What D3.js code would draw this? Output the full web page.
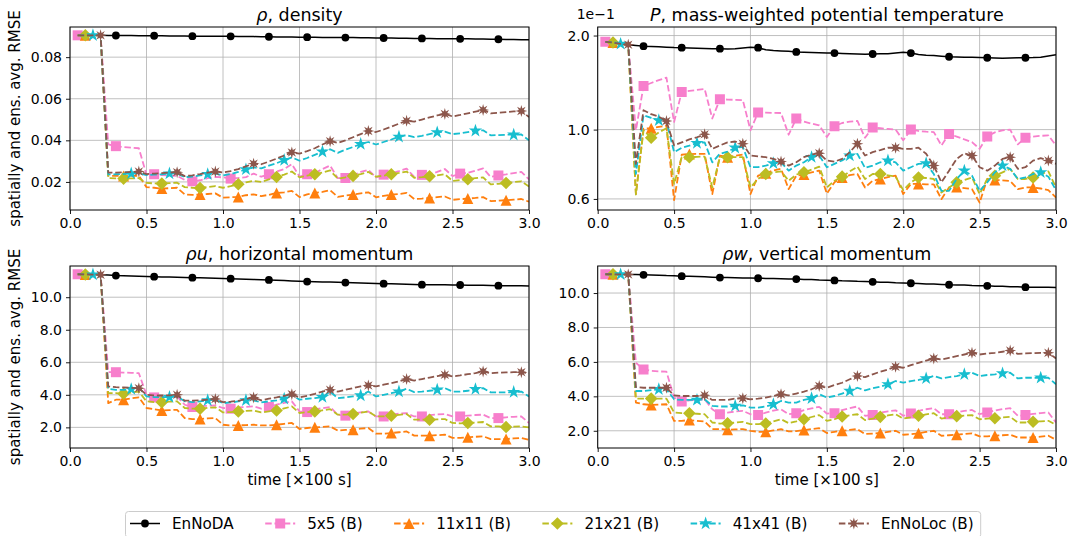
<!DOCTYPE html>
<html>
<head>
<meta charset="utf-8">
<script src="https://cdn.jsdelivr.net/npm/d3@7"></script>
<style>
  body { margin: 0; background: #fff; }
  svg text { font-family: "DejaVu Sans", sans-serif; fill: #000; }
</style>
</head>
<body>
<svg id="fig" width="1071" height="536"></svg>
<script>
// ---- sample times [x100 s] ----
const times = [0.05,0.10,0.15,0.20,0.25,0.30,0.35,0.40,0.45,0.50,
               0.55,0.60,0.65,0.70,0.75,0.80,0.85,0.90,0.95,1.00,
               1.05,1.10,1.15,1.20,1.25,1.30,1.35,1.40,1.45,1.50,
               1.55,1.60,1.65,1.70,1.75,1.80,1.85,1.90,1.95,2.00,
               2.05,2.10,2.15,2.20,2.25,2.30,2.35,2.40,2.45,2.50,
               2.55,2.60,2.65,2.70,2.75,2.80,2.85,2.90,2.95,3.00];

const seriesNames = ["EnNoDA", "5x5 (B)", "11x11 (B)", "21x21 (B)", "41x41 (B)", "EnNoLoc (B)"];

// ---- tick labels ----
const timeTicks = [0.0, 0.5, 1.0, 1.5, 2.0, 2.5, 3.0];
const densityTicks = [0.02, 0.04, 0.06, 0.08];
const potTempTicks = [0.6, 1.0, 2.0];
const potTempLimits = [0.553, 2.13];
const momentumTicks = [2.0, 4.0, 6.0, 8.0, 10.0];

// ---- rho, density ----
const rhoEnNoDA = [0.0905,0.0905,0.0905,0.0905,0.0904,0.0904,0.0904,0.0904,0.0903,0.0903,
  0.0903,0.0903,0.0902,0.0902,0.0902,0.0901,0.0901,0.0901,0.0900,0.0900,
  0.0900,0.0899,0.0899,0.0899,0.0898,0.0898,0.0897,0.0897,0.0897,0.0896,
  0.0896,0.0896,0.0895,0.0895,0.0894,0.0894,0.0894,0.0893,0.0893,0.0892,
  0.0892,0.0892,0.0891,0.0891,0.0890,0.0890,0.0890,0.0889,0.0889,0.0888,
  0.0888,0.0888,0.0887,0.0887,0.0886,0.0886,0.0885,0.0885,0.0884,0.0884];
const rho5x5 = [0.0905,0.0905,0.0905,0.0905,
  0.0380,0.0372,0.0368,0.0365,0.0362,
  0.0235,0.0237,0.0233,0.0231,0.0229,
  0.0210,0.0203,0.0208,0.0218,0.0224,
  0.0222,0.0216,0.0219,0.0223,0.0240,
  0.0225,0.0237,0.0250,0.0262,0.0285,
  0.0226,0.0237,0.0242,0.0262,0.0279,
  0.0218,0.0219,0.0232,0.0248,0.0258,
  0.0222,0.0235,0.0242,0.0252,0.0264,
  0.0224,0.0234,0.0236,0.0248,0.0262,
  0.0228,0.0240,0.0244,0.0254,0.0265,
  0.0224,0.0231,0.0236,0.0242,0.0248,
  0.0212];
const rho11x11 = [0.0905,0.0905,0.0905,0.0905,
  0.0230,0.0229,0.0228,0.0229,0.0230,
  0.0175,0.0172,0.0168,0.0170,0.0172,
  0.0140,0.0138,0.0139,0.0142,0.0145,
  0.0124,0.0126,0.0128,0.0136,0.0140,
  0.0132,0.0138,0.0147,0.0150,0.0157,
  0.0127,0.0140,0.0147,0.0152,0.0160,
  0.0128,0.0134,0.0139,0.0145,0.0150,
  0.0126,0.0133,0.0139,0.0142,0.0147,
  0.0118,0.0120,0.0123,0.0127,0.0130,
  0.0114,0.0117,0.0120,0.0123,0.0127,
  0.0108,0.0110,0.0112,0.0115,0.0118,
  0.0105];
const rho21x21 = [0.0905,0.0905,0.0905,0.0905,
  0.0218,0.0217,0.0216,0.0217,0.0218,
  0.0195,0.0193,0.0192,0.0194,0.0196,
  0.0175,0.0172,0.0171,0.0175,0.0180,
  0.0172,0.0180,0.0189,0.0198,0.0205,
  0.0200,0.0212,0.0224,0.0235,0.0250,
  0.0222,0.0230,0.0237,0.0245,0.0255,
  0.0216,0.0222,0.0229,0.0238,0.0248,
  0.0225,0.0230,0.0237,0.0243,0.0250,
  0.0220,0.0223,0.0227,0.0232,0.0237,
  0.0205,0.0209,0.0213,0.0218,0.0222,
  0.0188,0.0191,0.0195,0.0199,0.0203,
  0.0178];
const rho41x41 = [0.0905,0.0905,0.0905,0.0905,
  0.0236,0.0237,0.0238,0.0240,0.0242,
  0.0233,0.0235,0.0237,0.0240,0.0241,
  0.0223,0.0226,0.0231,0.0237,0.0240,
  0.0231,0.0238,0.0248,0.0260,0.0270,
  0.0265,0.0278,0.0290,0.0305,0.0318,
  0.0302,0.0315,0.0330,0.0345,0.0357,
  0.0340,0.0355,0.0368,0.0382,0.0392,
  0.0380,0.0392,0.0404,0.0417,0.0425,
  0.0415,0.0422,0.0430,0.0438,0.0442,
  0.0430,0.0434,0.0440,0.0446,0.0448,
  0.0424,0.0425,0.0427,0.0427,0.0428,
  0.0400];
const rhoEnNoLoc = [0.0905,0.0905,0.0905,0.0905,
  0.0245,0.0245,0.0246,0.0248,0.0250,
  0.0238,0.0240,0.0242,0.0245,0.0247,
  0.0228,0.0232,0.0238,0.0245,0.0250,
  0.0245,0.0252,0.0262,0.0275,0.0288,
  0.0285,0.0298,0.0312,0.0327,0.0342,
  0.0336,0.0348,0.0362,0.0380,0.0396,
  0.0388,0.0400,0.0415,0.0430,0.0445,
  0.0440,0.0452,0.0466,0.0480,0.0494,
  0.0490,0.0500,0.0510,0.0520,0.0527,
  0.0515,0.0522,0.0530,0.0538,0.0546,
  0.0530,0.0533,0.0536,0.0539,0.0541,
  0.0512];

// ---- P, mass-weighted potential temperature (x 1e-1) ----
const potEnNoDA = [1.91,1.90,1.88,1.87,1.86,1.85,1.845,1.84,1.835,1.83,
  1.829,1.826,1.822,1.818,1.814,1.815,1.812,1.815,1.825,1.835,
  1.829,1.80,1.79,1.785,1.78,1.772,1.768,1.765,1.762,1.76,
  1.758,1.752,1.748,1.745,1.744,1.746,1.748,1.75,1.758,1.768,
  1.758,1.74,1.73,1.725,1.718,1.711,1.708,1.705,1.703,1.70,
  1.698,1.695,1.692,1.695,1.697,1.698,1.70,1.705,1.72,1.737];
const pot5x5 = [1.91,1.90,1.88,1.87,
  0.995,1.379,1.41,1.44,1.467,
  1.058,1.319,1.33,1.34,1.349,
  1.085,1.25,1.248,1.245,1.243,
  0.995,1.135,1.133,1.131,1.13,
  0.963,1.085,1.06,1.045,1.032,
  0.947,1.025,1.05,1.06,1.066,
  0.942,1.015,1.01,1.005,1.0,
  0.924,1.0,0.99,0.985,0.982,
  0.89,0.968,0.95,0.93,0.912,
  0.868,0.951,0.98,0.995,1.0,
  0.897,0.942,0.95,0.955,0.958,
  0.89];
const pot11x11 = [1.91,1.90,1.88,1.87,
  0.622,1.007,1.01,1.02,1.03,
  0.595,0.832,0.835,0.836,0.836,
  0.622,0.826,0.816,0.825,0.832,
  0.622,0.712,0.725,0.74,0.749,
  0.645,0.712,0.718,0.73,0.739,
  0.624,0.678,0.703,0.715,0.721,
  0.653,0.686,0.695,0.705,0.712,
  0.622,0.67,0.67,0.668,0.668,
  0.599,0.653,0.655,0.65,0.645,
  0.584,0.695,0.69,0.688,0.685,
  0.645,0.653,0.653,0.648,0.64,
  0.606];
const pot21x21 = [1.91,1.90,1.88,1.87,
  0.62,0.995,0.942,0.98,1.01,
  0.67,0.816,0.816,0.818,0.82,
  0.653,0.816,0.816,0.816,0.816,
  0.653,0.695,0.721,0.73,0.735,
  0.686,0.718,0.73,0.745,0.761,
  0.653,0.686,0.707,0.735,0.761,
  0.695,0.721,0.721,0.714,0.707,
  0.64,0.678,0.703,0.70,0.695,
  0.629,0.653,0.678,0.69,0.703,
  0.622,0.695,0.712,0.73,0.749,
  0.695,0.695,0.703,0.72,0.735,
  0.653];
const pot41x41 = [1.91,1.90,1.88,1.87,
  0.721,1.112,1.09,1.071,1.065,
  0.847,0.875,0.889,0.905,0.91,
  0.786,0.837,0.85,0.875,0.88,
  0.758,0.758,0.767,0.78,0.786,
  0.739,0.767,0.786,0.816,0.826,
  0.758,0.777,0.797,0.826,0.836,
  0.754,0.767,0.786,0.796,0.786,
  0.739,0.758,0.777,0.78,0.721,
  0.637,0.637,0.695,0.739,0.712,
  0.637,0.678,0.73,0.767,0.749,
  0.695,0.703,0.721,0.73,0.707,
  0.64];
const potEnNoLoc = [1.91,1.90,1.88,1.87,
  0.777,1.154,1.12,1.10,1.065,
  0.89,0.91,0.93,0.945,0.966,
  0.868,0.89,0.91,0.916,0.901,
  0.826,0.821,0.816,0.806,0.79,
  0.767,0.786,0.816,0.832,0.84,
  0.796,0.79,0.806,0.847,0.901,
  0.826,0.847,0.86,0.875,0.875,
  0.868,0.868,0.875,0.837,0.767,
  0.678,0.739,0.806,0.84,0.826,
  0.758,0.739,0.767,0.806,0.816,
  0.749,0.758,0.796,0.81,0.796,
  0.777];

// ---- rho u, horizontal momentum ----
const ruEnNoDA = [11.41,11.40,11.39,11.38,11.36,11.33,11.32,11.31,11.29,11.28,
  11.26,11.25,11.24,11.22,11.21,11.20,11.19,11.18,11.16,11.15,
  11.14,11.12,11.11,11.09,11.08,11.06,11.04,11.02,11.00,10.98,
  10.96,10.95,10.94,10.93,10.92,10.90,10.89,10.88,10.86,10.85,
  10.83,10.82,10.81,10.80,10.78,10.77,10.77,10.76,10.76,10.75,
  10.75,10.74,10.74,10.73,10.72,10.71,10.71,10.70,10.70,10.69];
const ru5x5 = [11.41,11.40,11.39,11.38,
  5.40,5.39,5.37,5.35,5.33,
  4.00,3.84,3.87,3.89,3.90,
  3.39,3.25,3.30,3.33,3.35,
  3.19,3.15,3.22,3.26,3.29,
  3.15,3.25,3.40,3.50,3.60,
  2.98,2.94,3.10,3.18,3.25,
  2.78,2.72,2.85,2.92,2.98,
  2.67,2.67,2.78,2.84,2.88,
  2.67,2.67,2.75,2.80,2.82,
  2.67,2.67,2.72,2.76,2.78,
  2.57,2.57,2.62,2.65,2.67,
  2.27];
const ru11x11 = [11.41,11.40,11.39,11.38,
  3.49,3.70,3.70,3.78,3.84,
  3.19,3.12,3.04,3.06,3.08,
  2.57,2.51,2.51,2.55,2.57,
  2.16,2.12,2.12,2.14,2.16,
  2.12,2.12,2.16,2.22,2.27,
  1.90,1.96,2.00,2.03,2.06,
  1.80,1.84,1.86,1.92,1.96,
  1.61,1.61,1.65,1.70,1.75,
  1.49,1.49,1.49,1.52,1.55,
  1.35,1.35,1.39,1.42,1.45,
  1.28,1.28,1.28,1.32,1.35,
  1.24];
const ru21x21 = [11.41,11.40,11.39,11.38,
  4.10,4.10,4.07,4.14,4.20,
  3.60,3.55,3.55,3.58,3.60,
  3.19,3.15,3.15,3.20,3.23,
  2.92,2.94,2.98,3.01,3.04,
  2.92,2.98,3.04,3.16,3.29,
  2.88,2.94,2.98,3.05,3.12,
  2.78,2.78,2.82,2.90,2.98,
  2.67,2.67,2.72,2.77,2.82,
  2.47,2.47,2.47,2.49,2.51,
  2.27,2.25,2.27,2.30,2.33,
  2.06,2.06,2.02,2.04,2.06,
  2.00];
const ru41x41 = [11.41,11.40,11.39,11.38,
  4.37,4.31,4.31,4.35,4.45,
  3.90,3.86,3.86,3.86,3.90,
  3.60,3.55,3.60,3.66,3.70,
  3.49,3.53,3.60,3.66,3.66,
  3.53,3.60,3.66,3.76,4.00,
  3.70,3.76,3.80,3.86,4.20,
  3.80,3.84,3.90,3.96,4.20,
  3.90,4.00,4.10,4.20,4.37,
  4.17,4.20,4.25,4.31,4.41,
  4.20,4.20,4.25,4.35,4.41,
  4.15,4.15,4.15,4.17,4.20,
  3.90];
const ruEnNoLoc = [11.41,11.40,11.39,11.38,
  4.52,4.47,4.45,4.43,4.41,
  4.00,3.96,3.96,3.97,4.00,
  3.64,3.64,3.66,3.70,3.74,
  3.55,3.58,3.63,3.74,3.84,
  3.66,3.76,3.84,3.94,4.04,
  3.84,3.94,4.06,4.20,4.31,
  4.20,4.31,4.41,4.52,4.58,
  4.52,4.62,4.72,4.82,4.97,
  4.88,4.97,5.06,5.15,5.23,
  5.13,5.19,5.27,5.33,5.44,
  5.33,5.36,5.38,5.39,5.39,
  5.33];

// ---- rho w, vertical momentum ----
const rwEnNoDA = [11.09,11.09,11.08,11.08,11.07,11.06,11.05,11.04,11.02,11.01,
  10.98,10.97,10.96,10.94,10.92,10.90,10.90,10.89,10.88,10.87,
  10.86,10.85,10.84,10.83,10.82,10.81,10.79,10.78,10.76,10.75,
  10.73,10.71,10.70,10.68,10.67,10.65,10.63,10.62,10.60,10.59,
  10.57,10.55,10.53,10.52,10.50,10.48,10.47,10.46,10.44,10.43,
  10.42,10.40,10.39,10.37,10.36,10.34,10.34,10.33,10.33,10.32];
const rw5x5 = [11.09,11.09,11.08,11.08,
  5.95,5.56,5.48,5.45,5.43,
  3.93,3.70,3.76,3.80,3.83,
  3.25,2.96,3.05,3.12,3.16,
  2.96,2.91,3.05,3.17,3.25,
  2.96,3.02,3.20,3.30,3.39,
  3.00,3.02,3.20,3.32,3.41,
  2.87,2.92,3.05,3.13,3.19,
  2.87,3.00,3.15,3.25,3.31,
  2.96,2.96,3.08,3.15,3.21,
  2.96,3.06,3.18,3.26,3.31,
  2.87,2.91,2.98,3.03,3.06,
  2.48];
const rw11x11 = [11.09,11.09,11.08,11.08,
  3.64,3.54,3.50,3.52,3.54,
  2.58,2.58,2.62,2.58,2.54,
  2.10,2.10,2.06,2.08,2.10,
  2.00,1.94,1.94,2.02,2.10,
  1.96,1.98,2.04,2.10,2.15,
  1.87,1.94,2.00,2.05,2.10,
  1.81,1.84,1.87,1.94,2.00,
  1.77,1.80,1.85,1.93,2.00,
  1.71,1.74,1.77,1.81,1.85,
  1.67,1.67,1.71,1.74,1.77,
  1.61,1.61,1.61,1.66,1.71,
  1.48];
const rw21x21 = [11.09,11.09,11.08,11.08,
  3.87,3.87,3.87,3.87,3.87,
  3.06,3.02,3.02,2.99,2.96,
  2.48,2.42,2.44,2.48,2.52,
  2.39,2.39,2.42,2.55,2.67,
  2.44,2.54,2.67,2.80,2.91,
  2.58,2.67,2.83,2.90,2.96,
  2.62,2.71,2.81,2.89,2.96,
  2.71,2.78,2.87,2.95,3.02,
  2.71,2.78,2.85,2.88,2.91,
  2.67,2.71,2.73,2.77,2.81,
  2.48,2.48,2.52,2.55,2.58,
  2.35];
const rw41x41 = [11.09,11.09,11.08,11.08,
  4.31,4.31,4.36,4.41,4.41,
  3.83,3.79,3.79,3.79,3.83,
  3.45,3.41,3.41,3.45,3.48,
  3.35,3.35,3.41,3.54,3.73,
  3.64,3.64,3.79,3.89,4.12,
  3.93,4.02,4.16,4.31,4.50,
  4.35,4.47,4.56,4.70,4.89,
  4.79,4.89,4.95,5.04,5.18,
  5.04,5.12,5.18,5.28,5.37,
  5.18,5.24,5.28,5.33,5.37,
  5.04,5.08,5.08,5.08,5.08,
  4.70];
const rwEnNoLoc = [11.09,11.09,11.08,11.08,
  4.54,4.50,4.50,4.50,4.50,
  4.06,4.02,4.02,4.02,4.06,
  3.79,3.79,3.79,3.87,3.89,
  3.83,3.87,3.93,4.02,4.12,
  4.06,4.16,4.27,4.41,4.60,
  4.50,4.66,4.79,4.99,5.18,
  5.12,5.28,5.43,5.56,5.72,
  5.66,5.81,5.95,6.08,6.20,
  6.14,6.24,6.34,6.43,6.53,
  6.43,6.49,6.53,6.59,6.66,
  6.47,6.49,6.51,6.53,6.53,
  6.20];

// ---- styling ----
const seriesColors = ["#000000", "#f77fcc", "#ff7f0e", "#bcbd22", "#17becf", "#8c564b"];
const seriesDash = [null, "6.5,2.8", "6.5,2.8", "6.5,2.8", "6.5,2.8", "6.5,2.8"];
const seriesWidth = [1.5, 1.8, 1.8, 1.8, 1.8, 1.8];
const seriesMarker = ["circle", "square", "triangle", "diamond", "star", "splat"];
const markerOffset = [0, 0, 1, 1, 2, 3];   // first marked sample
const markerEvery = 5;

function markerPath(kind) {
  const pts = [];
  if (kind === "circle") {
    return d3.symbol(d3.symbolCircle, Math.PI * 3.9 * 3.9)();
  }
  if (kind === "square") {
    const h = 5; pts.push([-h,-h],[h,-h],[h,h],[-h,h]);
  } else if (kind === "triangle") {
    const r = 5.5; pts.push([0,-r],[r,r],[-r,r]);
  } else if (kind === "diamond") {
    const r = 6.3; pts.push([0,-r],[r,0],[0,r],[-r,0]);
  } else if (kind === "star") {
    const R = 7, rr = R * 0.382;
    for (let i = 0; i < 10; i++) {
      const a = -Math.PI / 2 + i * Math.PI / 5, rad = i % 2 ? rr : R;
      pts.push([rad * Math.cos(a), rad * Math.sin(a)]);
    }
  } else if (kind === "splat") {
    const R = 6, rr = 2.6;
    for (let i = 0; i < 16; i++) {
      const a = -Math.PI / 2 + i * Math.PI / 8, rad = i % 2 ? rr : R;
      pts.push([rad * Math.cos(a), rad * Math.sin(a)]);
    }
  }
  return "M" + pts.map(p => p[0].toFixed(2) + "," + p[1].toFixed(2)).join("L") + "Z";
}

const panels = [
  { title: [["ρ", true], [", density", false]],
    series: [rhoEnNoDA, rho5x5, rho11x11, rho21x21, rho41x41, rhoEnNoLoc],
    log: false, ticks: densityTicks, fmt: d3.format(".2f"),
    box: { l: 70, r: 529, t: 27, b: 210 }, ylabel: true, xlabel: false },
  { title: [["P", true], [", mass-weighted potential temperature", false]],
    series: [potEnNoDA, pot5x5, pot11x11, pot21x21, pot41x41, potEnNoLoc],
    log: true, limits: potTempLimits, ticks: potTempTicks, fmt: d3.format(".1f"), offsetText: "1e\u22121",
    box: { l: 597.7, r: 1056, t: 27, b: 210 }, ylabel: false, xlabel: false },
  { title: [["ρu", true], [", horizontal momentum", false]],
    series: [ruEnNoDA, ru5x5, ru11x11, ru21x21, ru41x41, ruEnNoLoc],
    log: false, ticks: momentumTicks, fmt: d3.format(".1f"),
    box: { l: 70, r: 529, t: 266, b: 448 }, ylabel: true, xlabel: true },
  { title: [["ρw", true], [", vertical momentum", false]],
    series: [rwEnNoDA, rw5x5, rw11x11, rw21x21, rw41x41, rwEnNoLoc],
    log: false, ticks: momentumTicks, fmt: d3.format(".1f"),
    box: { l: 597.7, r: 1056, t: 266, b: 448 }, ylabel: false, xlabel: true }
];

const svg = d3.select("#fig");
svg.append("rect").attr("width", 1071).attr("height", 536).attr("fill", "#fff");

panels.forEach((p, pi) => {
  const b = p.box;
  const x = d3.scaleLinear().domain([0, 3]).range([b.l, b.r]);

  // y limits: explicit for the log axis, data range with 5% margins otherwise
  const all = p.series.flat();
  let y;
  if (p.log) {
    y = d3.scaleLog().domain(p.limits).range([b.b, b.t]);
  } else {
    const lo = d3.min(all), hi = d3.max(all), m = 0.05 * (hi - lo);
    y = d3.scaleLinear().domain([lo - m, hi + m]).range([b.b, b.t]);
  }

  const g = svg.append("g");

  // grid
  g.append("g").selectAll("line").data(timeTicks).join("line")
    .attr("x1", d => x(d)).attr("x2", d => x(d)).attr("y1", b.t).attr("y2", b.b)
    .attr("stroke", "#b0b0b0").attr("stroke-width", 0.8);
  g.append("g").selectAll("line").data(p.ticks).join("line")
    .attr("x1", b.l).attr("x2", b.r).attr("y1", d => y(d)).attr("y2", d => y(d))
    .attr("stroke", "#b0b0b0").attr("stroke-width", 0.8);

  // clip region
  const clipId = "clip" + pi;
  svg.append("clipPath").attr("id", clipId).append("rect")
    .attr("x", b.l).attr("y", b.t).attr("width", b.r - b.l).attr("height", b.b - b.t);

  const plot = g.append("g").attr("clip-path", `url(#${clipId})`);
  const line = d3.line().x((d, i) => x(times[i])).y(d => y(d));

  p.series.forEach((vals, si) => {
    const sg = plot.append("g");
    sg.append("path").datum(vals).attr("d", line)
      .attr("fill", "none").attr("stroke", seriesColors[si])
      .attr("stroke-width", seriesWidth[si])
      .attr("stroke-dasharray", seriesDash[si])
      .attr("stroke-linejoin", "round");
    const marks = vals.map((v, i) => ({ t: times[i], v, i }))
      .filter(d => d.i >= markerOffset[si] && (d.i - markerOffset[si]) % markerEvery === 0);
    sg.selectAll("path.mk").data(marks).join("path").attr("class", "mk")
      .attr("d", markerPath(seriesMarker[si]))
      .attr("transform", d => `translate(${x(d.t)},${y(d.v)})`)
      .attr("fill", seriesColors[si]);
  });

  // spines
  g.append("rect").attr("x", b.l).attr("y", b.t).attr("width", b.r - b.l).attr("height", b.b - b.t)
    .attr("fill", "none").attr("stroke", "#000").attr("stroke-width", 1);

  // axes
  const xa = g.append("g").attr("transform", `translate(0,${b.b})`)
    .call(d3.axisBottom(x).tickValues(timeTicks).tickFormat(d3.format(".1f")).tickSize(4).tickPadding(4).tickSizeOuter(0));
  const ya = g.append("g").attr("transform", `translate(${b.l},0)`)
    .call(d3.axisLeft(y).tickValues(p.ticks).tickFormat(p.fmt).tickSize(4).tickPadding(4).tickSizeOuter(0));
  [xa, ya].forEach(a => {
    a.select(".domain").remove();
    a.selectAll("text").attr("font-size", 14).attr("font-family", "DejaVu Sans, sans-serif").attr("fill", "#000");
    a.selectAll("line").attr("stroke", "#000").attr("stroke-width", 0.9);
  });

  // title
  const tt = g.append("text").attr("x", (b.l + b.r) / 2).attr("y", b.t - 6)
    .attr("text-anchor", "middle").attr("font-size", 17.5);
  p.title.forEach(([s, it]) => tt.append("tspan").text(s).attr("font-style", it ? "italic" : "normal"));

  if (p.offsetText) {
    g.append("text").attr("x", b.l - 21).attr("y", b.t - 8).attr("font-size", 14).text(p.offsetText);
  }
  if (p.ylabel) {
    g.append("text").attr("transform", `translate(20,${(b.t + b.b) / 2}) rotate(-90)`)
      .attr("text-anchor", "middle").attr("font-size", 15)
      .text("spatially and ens. avg. RMSE");
  }
  if (p.xlabel) {
    g.append("text").attr("x", (b.l + b.r) / 2).attr("y", b.b + 37)
      .attr("text-anchor", "middle").attr("font-size", 15).text("time [\u00d7100 s]");
  }
});

// ---- legend ----
const leg = svg.append("g");
const legBox = leg.append("rect").attr("x", 125.5).attr("y", 511.5).attr("height", 26)
  .attr("rx", 3).attr("fill", "#fff").attr("stroke", "#cccccc").attr("stroke-width", 1);
let lx = 130;
const ly = 523.5;
const colGap = 31.5;
seriesNames.forEach((name, si) => {
  leg.append("line").attr("x1", lx).attr("x2", lx + 30).attr("y1", ly).attr("y2", ly)
    .attr("stroke", seriesColors[si]).attr("stroke-width", seriesWidth[si])
    .attr("stroke-dasharray", seriesDash[si]);
  leg.append("path").attr("d", markerPath(seriesMarker[si]))
    .attr("transform", `translate(${lx + 15},${ly})`).attr("fill", seriesColors[si]);
  const t = leg.append("text").attr("x", lx + 42).attr("y", ly + 5.5)
    .attr("font-size", 15.2).text(name);
  lx += 42 + t.node().getComputedTextLength() + colGap;
});
legBox.attr("width", lx - colGap + 7 - 125.5);
</script>
</body>
</html>
